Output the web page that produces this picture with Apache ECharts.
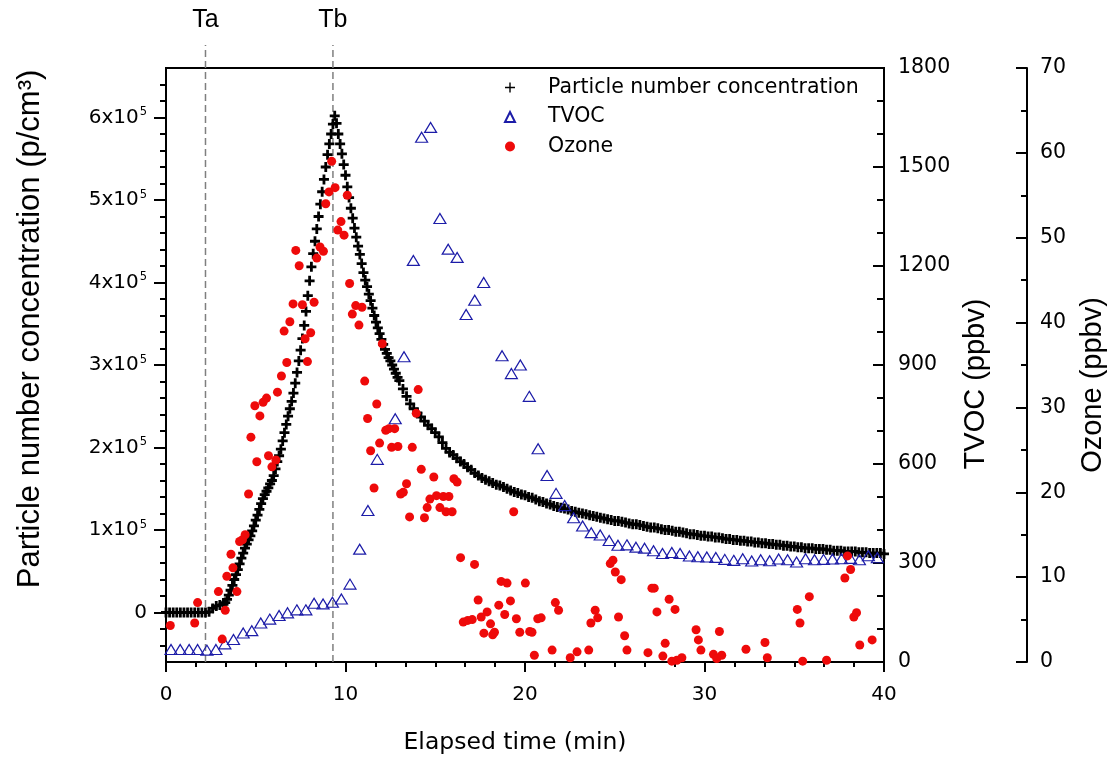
<!DOCTYPE html>
<html><head><meta charset="utf-8">
<script src="https://cdn.jsdelivr.net/npm/echarts@6/dist/echarts.min.js"></script>
<style>html,body{margin:0;padding:0;background:#fff}#chart{width:1117px;height:762px}</style>
</head><body><div id="chart"></div>
<script>
// Particle number concentration, in units of 10^5 p/cm3
const pncTime = [
0,0.2,0.4,0.6,0.8,1,1.2,1.4,1.6,1.8,
2,2.2,2.4,2.6,2.8,3,3.2,
3.3,3.4,3.5,3.6,3.7,3.8,3.9,
4,4.1,4.2,4.3,4.4,4.5,4.6,4.7,4.8,4.9,
5,5.1,5.2,5.3,5.4,5.5,5.6,5.7,5.8,5.9,
6,6.1,6.2,6.3,6.4,6.5,6.6,6.7,6.8,6.9,
7,7.1,7.2,7.3,7.4,7.5,7.6,7.7,7.8,7.9,
8,8.1,8.2,8.3,8.4,8.5,8.6,8.7,8.8,8.9,
9,9.1,9.2,9.3,9.4,9.5,9.6,9.7,9.8,9.9,
10,10.1,10.2,10.3,10.4,10.5,10.6,10.7,10.8,10.9,
11,11.1,11.2,11.3,11.4,11.5,11.6,11.7,11.8,11.9,
12,12.1,12.2,12.3,12.4,12.5,12.6,12.7,12.8,12.9,
13,13.2,13.4,13.6,13.8,
14,14.2,14.4,14.6,14.8,15,15.2,15.4,15.6,15.8,
16,16.2,16.4,16.6,16.8,17,17.2,17.4,17.6,17.8,
18,18.2,18.4,18.6,18.8,19,19.2,19.4,19.6,19.8,
20,20.2,20.4,20.6,20.8,21,21.2,21.4,21.6,21.8,
22,22.2,22.4,22.6,22.8,23,23.2,23.4,23.6,23.8,
24,24.2,24.4,24.6,24.8,25,25.2,25.4,25.6,25.8,
26,26.2,26.4,26.6,26.8,27,27.2,27.4,27.6,27.8,
28,28.2,28.4,28.6,28.8,29,29.2,29.4,29.6,29.8,
30,30.2,30.4,30.6,30.8,31,31.2,31.4,31.6,31.8,
32,32.2,32.4,32.6,32.8,33,33.2,33.4,33.6,33.8,
34,34.2,34.4,34.6,34.8,35,35.2,35.4,35.6,35.8,
36,36.2,36.4,36.6,36.8,37,37.2,37.4,37.6,37.8,
38,38.2,38.4,38.6,38.8,39,39.2,39.4,39.6,39.8,
40];
const pncE5 = [
0,0,0,0,0,0,0,0,0,0,
0,0,0.01,0.05,0.08,0.09,0.10,
0.12,0.16,0.21,0.27,0.33,0.40,0.46,
0.52,0.59,0.66,0.72,0.78,0.83,0.88,0.93,0.99,1.05,
1.12,1.18,1.25,1.32,1.38,1.43,1.47,1.51,1.56,1.60,
1.66,1.74,1.83,1.90,1.98,2.08,2.18,2.28,2.38,2.47,
2.56,2.66,2.78,2.91,3.05,3.18,3.32,3.48,3.65,3.84,
4.02,4.19,4.35,4.50,4.65,4.80,4.95,5.10,5.25,5.40,
5.55,5.68,5.80,5.92,6.02,5.93,5.80,5.68,5.56,5.43,
5.30,5.16,5.03,4.90,4.78,4.66,4.55,4.44,4.34,4.23,
4.12,4.03,3.95,3.86,3.78,3.69,3.60,3.52,3.45,3.38,
3.31,3.25,3.19,3.14,3.09,3.05,3.00,2.95,2.90,2.85,
2.81,2.71,2.62,2.53,2.47,
2.42,2.37,2.32,2.27,2.23,2.18,2.13,2.06,1.99,1.94,
1.91,1.87,1.83,1.80,1.76,1.73,1.69,1.66,1.63,1.61,
1.59,1.57,1.55,1.54,1.52,1.50,1.48,1.46,1.45,1.43,
1.42,1.40,1.39,1.37,1.35,1.34,1.32,1.31,1.29,1.28,
1.27,1.26,1.25,1.23,1.22,1.21,1.20,1.19,1.18,1.17,
1.16,1.15,1.14,1.13,1.12,1.11,1.11,1.10,1.09,1.08,
1.07,1.07,1.06,1.05,1.04,1.03,1.03,1.02,1.01,1.00,
1.00,0.99,0.98,0.98,0.97,0.96,0.95,0.95,0.94,0.93,
0.93,0.92,0.92,0.91,0.91,0.90,0.89,0.89,0.88,0.88,
0.87,0.87,0.86,0.86,0.85,0.85,0.84,0.84,0.83,0.83,
0.82,0.82,0.81,0.81,0.80,0.80,0.79,0.79,0.78,0.78,
0.78,0.77,0.77,0.77,0.76,0.76,0.75,0.75,0.75,0.74,
0.74,0.74,0.74,0.73,0.73,0.73,0.72,0.72,0.72,0.72,
0.71];
// TVOC (ppbv)
const tvocTime = [0.28,0.79,1.29,1.76,2.28,2.78,3.28,3.76,4.30,4.78,
5.28,5.78,6.30,6.77,7.29,7.79,8.25,8.75,9.27,9.77,
10.25,10.79,11.25,11.77,12.77,13.26,13.78,14.24,14.74,15.26,
15.72,16.22,16.72,17.20,17.70,18.72,19.24,19.74,20.24,20.73,
21.23,21.73,22.21,22.71,23.21,23.69,24.19,24.69,25.18,25.68,
26.18,26.66,27.16,27.66,28.18,28.64,29.16,29.63,30.13,30.63,
31.13,31.63,32.13,32.63,33.13,33.63,34.13,34.63,35.13,35.63,
36.13,36.63,37.13,37.63,38.13,38.63,39.13,39.63];
const tvocValue = [38,38,38,38,36,38,55,68,88,95,
118,130,141,149,158,158,178,176,181,191,
236,342,459,614,737,925,1217,1590,1620,1344,
1251,1226,1053,1096,1150,928,874,900,805,646,
565,511,474,437,412,392,385,368,354,355,
348,345,337,329,332,329,321,319,318,317,
311,308,313,306,310,307,312,310,303,313,
310,311,312,313,314,310,322,316];
// Ozone (ppbv)
const ozoneTime = [0.24,1.6,1.76,2.92,3.13,3.3,3.39,3.62,3.73,3.95,
4.1,4.26,4.41,4.6,4.73,4.95,5.06,5.23,5.41,5.6,
5.71,5.9,6.12,6.21,6.43,6.58,6.73,6.9,7.08,7.23,
7.42,7.6,7.75,7.88,8.06,8.25,8.4,8.58,8.77,8.9,
9.08,9.23,9.42,9.57,9.75,9.92,10.1,10.23,10.38,10.57,
10.75,10.92,11.07,11.23,11.4,11.59,11.74,11.9,12.05,12.24,
12.42,12.57,12.74,12.92,13.07,13.22,13.4,13.57,13.72,13.94,
14.05,14.22,14.4,14.55,14.7,14.92,15.07,15.26,15.45,15.6,
15.76,15.94,16.04,16.22,16.41,16.56,16.81,17.06,17.19,17.39,
17.56,17.71,17.89,18.08,18.2,18.3,18.54,18.67,18.87,19.0,
19.19,19.37,19.52,19.71,20.02,20.26,20.39,20.52,20.71,20.9,
21.51,21.69,21.87,22.52,22.9,23.55,23.67,23.91,24.05,24.75,
24.9,25.03,25.21,25.36,25.55,25.68,26.85,27.07,27.2,27.35,
27.68,27.81,28.03,28.18,28.36,28.46,28.74,29.53,29.66,29.8,
30.5,30.68,30.83,30.96,32.31,33.37,33.5,35.17,35.32,35.47,
35.84,36.8,37.82,37.97,38.14,38.32,38.47,38.65,39.34];
const ozoneValue = [4.3,4.6,7.0,8.3,2.7,6.1,10.1,12.7,11.1,8.3,
14.2,14.4,15.0,19.8,26.5,30.2,23.6,29.0,30.6,31.1,
24.3,23.0,23.8,31.8,33.7,39.0,35.3,40.1,42.2,48.5,
46.7,42.1,38.1,35.4,38.8,42.4,47.6,48.9,48.4,54.0,
55.4,59.0,55.9,50.9,51.9,50.3,55.0,44.6,41.0,42.0,
39.7,41.8,33.1,28.7,24.9,20.5,30.4,25.8,37.5,27.3,
27.5,25.3,27.5,25.4,19.8,20.0,21.0,17.1,25.3,29.3,
32.1,22.7,17.0,18.2,19.2,21.8,19.6,18.2,19.5,17.7,
19.5,17.7,21.6,21.2,12.3,4.7,4.9,5.0,11.5,7.3,
5.3,3.4,5.9,4.5,3.2,3.5,6.7,9.5,5.6,9.3,
7.2,17.7,5.1,3.5,9.3,3.6,3.5,0.8,5.1,5.2,
1.4,7.0,6.1,0.5,1.2,1.4,4.6,6.1,5.2,11.6,
12.0,10.6,5.3,9.7,3.1,1.4,1.1,8.7,8.7,5.9,
0.7,2.2,7.4,0.1,6.2,0.2,0.5,3.8,2.6,1.4,
0.9,0.4,3.6,0.8,1.5,2.3,0.5,6.2,4.6,0.1,
7.7,0.2,9.9,12.5,10.9,5.3,5.8,2.0,2.6];
// Event markers
const eventTime = [2.2, 9.3];
const eventLabel = ['Ta', 'Tb'];
// Left axis ticks (x10^5)
const leftMajorTicks = [0,1,2,3,4,5,6];
const leftMinorTicks = [-0.4,-0.2,0.2,0.4,0.6,0.8,1.2,1.4,1.6,1.8,2.2,2.4,2.6,2.8,3.2,3.4,3.6,3.8,4.2,4.4,4.6,4.8,5.2,5.4,5.6,5.8,6.2,6.4];
const seriesNames = ['Particle number concentration', 'TVOC', 'Ozone'];

const FONT = '"DejaVu Sans", Verdana, sans-serif';
const FONT_V = '"Liberation Sans", Arial, sans-serif';
const PLUS_BOLD = 'path://M3.6,0H6.4V3.6H10V6.4H6.4V10H3.6V6.4H0V3.6H3.6Z';
const PLUS_THIN = 'path://M4.3,0H5.7V4.3H10V5.7H5.7V10H4.3V5.7H0V4.3H4.3Z';
const LEFT_MIN = -0.6, LEFT_MAX = 6.6;
const black = '#000';
const tickStyle = {color: black, width: 2};

const chart = echarts.init(document.getElementById('chart'), null, {renderer: 'canvas'});
const option = {
  animation: false,
  backgroundColor: '#fff',
  textStyle: {fontFamily: FONT},
  grid: {left: 166, right: 233, top: 68, bottom: 100, show: true, borderColor: black, borderWidth: 2, containLabel: false},
  legend: {
    data: [
      {name: seriesNames[0], icon: PLUS_THIN},
      {name: seriesNames[1]},
      {name: seriesNames[2]}
    ],
    orient: 'vertical', left: 499, top: 72, itemGap: 8.5,
    itemWidth: 10, itemHeight: 10,
    textStyle: {fontSize: 20.5, fontFamily: FONT, color: black, lineHeight: 20, padding: [0, 0, 0, 28]},
    selectedMode: false
  },
  xAxis: {
    type: 'value', min: 0, max: 40, interval: 10,
    axisLine: {show: true, onZero: false, lineStyle: tickStyle},
    axisTick: {show: true, length: 10, lineStyle: tickStyle},
    minorTick: {show: true, splitNumber: 6, length: 5, lineStyle: tickStyle},
    axisLabel: {fontSize: 20, color: black, margin: 23, fontFamily: FONT},
    splitLine: {show: false},
    name: 'Elapsed time (min)', nameLocation: 'middle', nameGap: 69,
    nameTextStyle: {fontSize: 23.5, color: black, fontFamily: FONT, padding: [0, 20, 0, 0]}
  },
  yAxis: [
    {
      type: 'value', position: 'left', min: LEFT_MIN, max: LEFT_MAX,
      axisLine: {show: true, onZero: false, lineStyle: tickStyle},
      axisTick: {show: true, customValues: leftMajorTicks, length: 12, lineStyle: tickStyle},
      axisLabel: {
        customValues: leftMajorTicks, margin: 19, color: black, fontSize: 20, fontFamily: FONT,
        formatter: v => v === 0 ? '{b|0}' : '{b|' + v + 'x10}{s|5}',
        rich: {
          b: {fontSize: 20, fontFamily: FONT, color: black, lineHeight: 22},
          s: {fontSize: 11.5, fontFamily: FONT, color: black, lineHeight: 12, verticalAlign: 'top', padding: [0, 0, 0, 1]}
        }
      },
      splitLine: {show: false},
      name: 'Particle number concentration (p/cm³)', nameLocation: 'middle', nameRotate: 90, nameGap: 120,
      nameTextStyle: {fontSize: 31, color: black, fontFamily: FONT_V, padding: [0, 0, 0, 72]}
    },
    {
      type: 'value', position: 'left', min: LEFT_MIN, max: LEFT_MAX,
      axisLine: {show: false},
      axisTick: {show: true, customValues: leftMinorTicks, length: 6, lineStyle: tickStyle},
      axisLabel: {show: false},
      splitLine: {show: false}
    },
    {
      type: 'value', position: 'right', min: 0, max: 1800, interval: 300,
      axisLine: {show: true, onZero: false, lineStyle: tickStyle},
      axisTick: {show: true, inside: true, length: 11, lineStyle: tickStyle},
      minorTick: {show: true, splitNumber: 3, length: 7, lineStyle: tickStyle},
      axisLabel: {fontSize: 20.5, color: black, margin: 14, fontFamily: FONT, formatter: v => String(v)},
      splitLine: {show: false},
      name: 'TVOC (ppbv)', nameLocation: 'middle', nameRotate: 90, nameGap: 75,
      nameTextStyle: {fontSize: 29, color: black, fontFamily: FONT_V, padding: [0, 38, 0, 0]}
    },
    {
      type: 'value', position: 'right', offset: 143, min: 0, max: 70, interval: 10,
      axisLine: {show: true, onZero: false, lineStyle: tickStyle},
      axisTick: {show: true, inside: true, length: 11, lineStyle: tickStyle},
      minorTick: {show: true, splitNumber: 2, length: 6, lineStyle: tickStyle},
      axisLabel: {fontSize: 20.5, color: black, margin: 13, fontFamily: FONT},
      splitLine: {show: false},
      name: 'Ozone (ppbv)', nameLocation: 'middle', nameRotate: 90, nameGap: 51,
      nameTextStyle: {fontSize: 29, color: black, fontFamily: FONT_V, padding: [0, 40, 0, 0]}
    }
  ],
  series: [
    {
      type: 'custom', name: 'events', xAxisIndex: 0, yAxisIndex: 0, clip: false, silent: true, z: 1,
      data: eventTime.map((t, i) => [t, LEFT_MIN, i]),
      encode: {x: 0, y: 1},
      renderItem: (params, api) => {
        const b = api.coord([api.value(0), LEFT_MIN]);
        const t = api.coord([api.value(0), LEFT_MAX]);
        return {type: 'group', children: [
          {type: 'line', shape: {x1: b[0], y1: b[1], x2: b[0], y2: t[1] - 23},
           style: {stroke: '#7f7f7f', lineWidth: 1.5, lineDash: [7, 4]}},
          {type: 'text', style: {text: eventLabel[params.dataIndex], x: b[0], y: t[1] - 48,
            textAlign: 'center', textVerticalAlign: 'middle', fontSize: 25, fontFamily: FONT_V, fill: black}}
        ]};
      }
    },
    {
      type: 'scatter', name: seriesNames[0], xAxisIndex: 0, yAxisIndex: 0, z: 3,
      data: pncTime.map((t, i) => [t, pncE5[i]]),
      symbol: PLUS_BOLD, symbolSize: 10,
      itemStyle: {color: black, opacity: 1}
    },
    {
      type: 'scatter', name: seriesNames[1], xAxisIndex: 0, yAxisIndex: 2, z: 4,
      data: tvocTime.map((t, i) => [t, tvocValue[i]]),
      symbol: 'triangle', symbolSize: [12, 10],
      itemStyle: {color: 'rgba(255,255,255,0)', borderColor: '#1c1ca8', borderWidth: 1.2, opacity: 1}
    },
    {
      type: 'scatter', name: seriesNames[2], xAxisIndex: 0, yAxisIndex: 3, z: 5,
      data: ozoneTime.map((t, i) => [t, ozoneValue[i]]),
      symbol: 'circle', symbolSize: 9,
      itemStyle: {color: '#ee0a0a', opacity: 1}
    }
  ]
};
chart.setOption(option);
</script>
</body></html>
